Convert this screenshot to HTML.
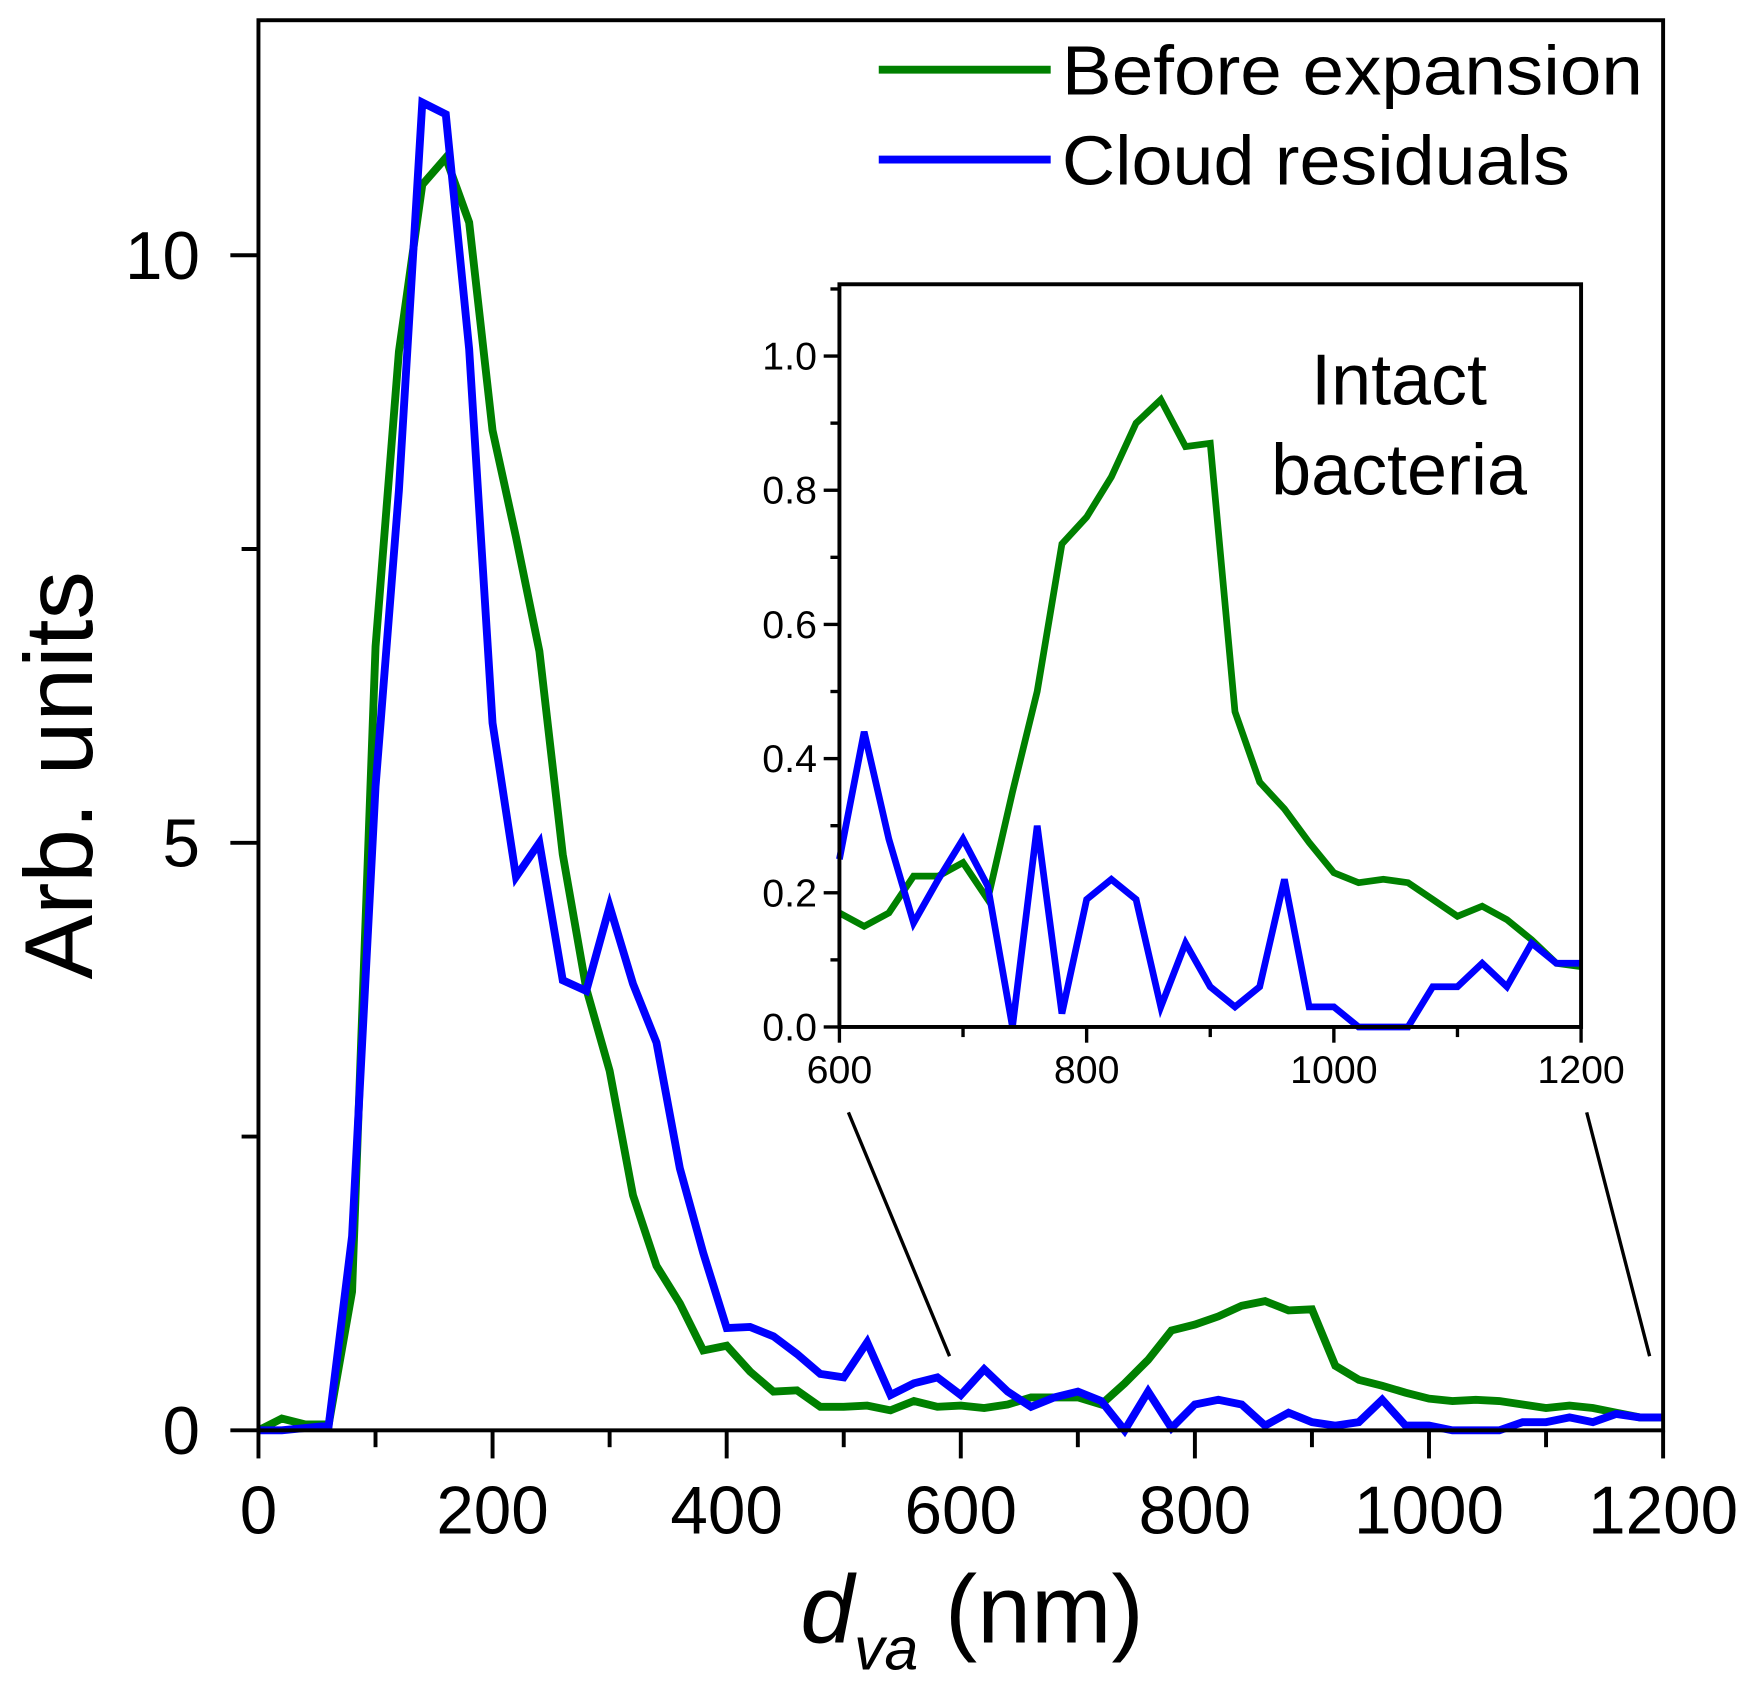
<!DOCTYPE html>
<html><head><meta charset="utf-8"><style>
html,body{margin:0;padding:0;background:#fff;}
svg{display:block;font-family:"Liberation Sans",Arial,sans-serif;}
</style></head><body>
<svg id="chart" width="1762" height="1700" viewBox="0 0 1568 1513" preserveAspectRatio="none" xmlns="http://www.w3.org/2000/svg">
<rect width="1568" height="1513" fill="#fff"/>
<g id="main"></g>
<g id="inset"></g>
</svg>
<script>
const xs = [0,20,40,60,80,100,120,140,160,180,200,220,240,260,280,300,320,340,360,380,400,420,440,460,480,500,520,540,560,580,600,620,640,660,680,700,720,740,760,780,800,820,840,860,880,900,920,940,960,980,1000,1020,1040,1060,1080,1100,1120,1140,1160,1180,1200];
const greenMain = [0,0.1,0.05,0.05,1.18,6.67,9.18,10.6,10.83,10.28,8.51,7.6,6.63,4.9,3.76,3.06,2.0,1.4,1.08,0.68,0.72,0.5,0.33,0.34,0.2,0.2,0.21,0.17,0.25,0.2,0.21,0.19,0.22,0.28,0.28,0.28,0.22,0.4,0.6,0.85,0.9,0.97,1.06,1.1,1.02,1.03,0.55,0.43,0.38,0.32,0.27,0.25,0.26,0.25,0.22,0.19,0.21,0.19,0.15,0.11,0.11];
const blueMain = [0,0,0.02,0.04,1.65,5.48,8.0,11.3,11.2,9.2,6.02,4.71,5.0,3.83,3.74,4.46,3.8,3.3,2.23,1.51,0.87,0.88,0.8,0.65,0.48,0.45,0.75,0.3,0.4,0.45,0.3,0.52,0.33,0.2,0.28,0.33,0.25,0.0,0.33,0.02,0.22,0.26,0.22,0.04,0.15,0.07,0.04,0.07,0.26,0.04,0.04,0,0,0,0.07,0.07,0.11,0.07,0.14,0.11,0.11];
const insetXs = [600,620,640,660,680,700,720,740,760,780,800,820,840,860,880,900,920,940,960,980,1000,1020,1040,1060,1080,1100,1120,1140,1160,1180,1200];
const greenInset = [0.17,0.15,0.17,0.225,0.225,0.245,0.19,0.35,0.5,0.72,0.76,0.82,0.9,0.935,0.865,0.87,0.47,0.365,0.325,0.275,0.23,0.215,0.22,0.215,0.19,0.165,0.18,0.16,0.13,0.095,0.09];
const blueInset = [0.25,0.44,0.28,0.155,0.22,0.28,0.21,0.0,0.3,0.02,0.19,0.22,0.19,0.03,0.125,0.06,0.03,0.06,0.22,0.03,0.03,0,0,0,0.06,0.06,0.095,0.06,0.125,0.095,0.095];
const mainXTicks = [0,200,400,600,800,1000,1200];
const mainYTicks = [0,5,10];
const insetXTicks = [600,800,1000,1200];
const insetYTicks = [0.0,0.2,0.4,0.6,0.8,1.0];

const NS="http://www.w3.org/2000/svg";
function mk(parent,tag,attrs,text){const e=document.createElementNS(NS,tag);for(const k in attrs)e.setAttribute(k,attrs[k]);if(text!==undefined)e.textContent=text;parent.appendChild(e);return e;}

const M={l:230,r:1480,t:18,b:1273,x0:0,x1:1200,y0:0,y1:12};
const mx=v=>M.l+(v-M.x0)/(M.x1-M.x0)*(M.r-M.l);
const my=v=>M.b-(v-M.y0)/(M.y1-M.y0)*(M.b-M.t);
const g=document.getElementById('main');
function linePath(xa,ya,fx,fy){return xa.map((x,i)=>(i?'L':'M')+fx(x).toFixed(1)+','+fy(ya[i]).toFixed(1)).join(' ');}

let p=mk(g,'path',{d:linePath(xs,greenMain,mx,my),fill:'none',stroke:'#008000','stroke-width':7});


p=mk(g,'path',{d:linePath(xs,blueMain,mx,my),fill:'none',stroke:'#0000ff','stroke-width':7});



let fr=mk(g,'rect',{x:M.l,y:M.t,width:M.r-M.l,height:M.b-M.t,fill:'none',stroke:'#000','stroke-width':3.5});



for(let v=0;v<=1200;v+=100){const major=v%200===0;
 const t=mk(g,'line',{x1:mx(v),x2:mx(v),y1:M.b,y2:M.b+(major?25:15),stroke:'#000','stroke-width':3.5});
 
 }
mainXTicks.forEach(v=>{const t=mk(g,'text',{x:mx(v),y:M.b+92,'font-size':60,'text-anchor':'middle'},String(v));
 
 });
for(let v=0;v<=10;v+=2.5){const major=v%5===0;
 const t=mk(g,'line',{x1:M.l,x2:M.l-(major?25:15),y1:my(v),y2:my(v),stroke:'#000','stroke-width':3.5});
 
 }
mainYTicks.forEach(v=>{const t=mk(g,'text',{x:M.l-52,y:my(v)+21,'font-size':60,'text-anchor':'end'},String(v));
 
 });

let yt=mk(g,'text',{x:0,y:0,'font-size':86,'text-anchor':'middle',transform:'translate(82,690) rotate(-90)'},'Arb. units');


let xt=mk(g,'text',{x:865,y:1462,'font-size':86,'text-anchor':'middle'});


mk(xt,'tspan',{'font-style':'italic'},'d');
mk(xt,'tspan',{'font-style':'italic','font-size':54,dy:24},'va');
mk(xt,'tspan',{dy:-24},' (nm)');

const legend=[['Before expansion','#008000',62],['Cloud residuals','#0000ff',142]];
legend.forEach(([lab,col,y])=>{
 const l=mk(g,'line',{x1:782,x2:935,y1:y,y2:y,stroke:col,'stroke-width':7});
 
 
 const t=mk(g,'text',{x:945,y:y+22,'font-size':62,textLength:(lab==='Before expansion'?517:452),lengthAdjust:'spacingAndGlyphs'},lab);
 
 });

[[755,990,845,1207],[1412,990,1468,1207]].forEach(c=>{
 const l=mk(g,'line',{x1:c[0],y1:c[1],x2:c[2],y2:c[3],stroke:'#000','stroke-width':3});
 
 });

const I={l:747,r:1407,t:253,b:914,x0:600,x1:1200,y0:0,y1:1.107};
const ix=v=>I.l+(v-I.x0)/(I.x1-I.x0)*(I.r-I.l);
const iy=v=>I.b-(v-I.y0)/(I.y1-I.y0)*(I.b-I.t);
const gi=document.getElementById('inset');
p=mk(gi,'path',{d:linePath(insetXs,greenInset,ix,iy),fill:'none',stroke:'#008000','stroke-width':6});


p=mk(gi,'path',{d:linePath(insetXs,blueInset,ix,iy),fill:'none',stroke:'#0000ff','stroke-width':6});


fr=mk(gi,'rect',{x:I.l,y:I.t,width:I.r-I.l,height:I.b-I.t,fill:'none',stroke:'#000','stroke-width':3.5});


for(let v=600;v<=1200;v+=100){const major=v%200===0;
 const t=mk(gi,'line',{x1:ix(v),x2:ix(v),y1:I.b,y2:I.b+(major?14:9),stroke:'#000','stroke-width':3});
 
 }
insetXTicks.forEach(v=>{const t=mk(gi,'text',{x:ix(v),y:I.b+50,'font-size':35,'text-anchor':'middle'},String(v));
 
 });
for(let k=0;k<=11;k++){const v=k/10;const major=k%2===0;
 const t=mk(gi,'line',{x1:I.l,x2:I.l-(major?14:8),y1:iy(v),y2:iy(v),stroke:'#000','stroke-width':3});
 
 }
insetYTicks.forEach(v=>{const t=mk(gi,'text',{x:I.l-20,y:iy(v)+12,'font-size':35,'text-anchor':'end'},v.toFixed(1));
 
 });
let an=mk(gi,'text',{x:1245,y:360,'font-size':64,'text-anchor':'middle'},'Intact');


an=mk(gi,'text',{x:1245,y:440,'font-size':64,'text-anchor':'middle'},'bacteria');


</script>
</body></html>
